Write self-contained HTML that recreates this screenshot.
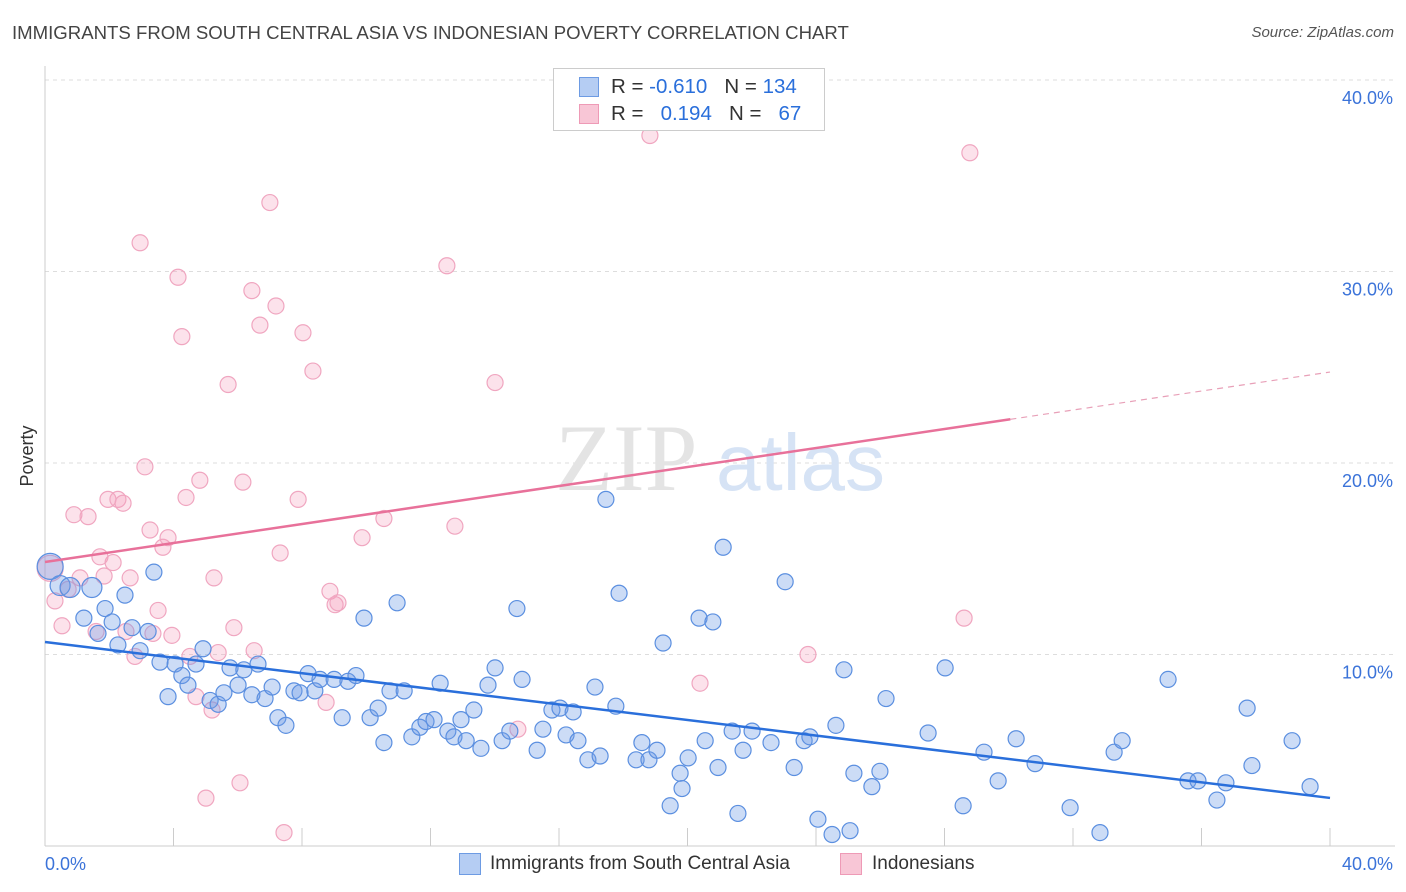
<!DOCTYPE html>
<html><head><meta charset="utf-8"><style>
body{margin:0;background:#fff;font-family:"Liberation Sans",sans-serif;}
#wrap{position:relative;width:1406px;height:892px;overflow:hidden;}
.t{position:absolute;white-space:nowrap;}
</style></head><body>
<div id="wrap">
<div class="t" style="left:12px;top:22px;font-size:18.6px;color:#444;">IMMIGRANTS FROM SOUTH CENTRAL ASIA VS INDONESIAN POVERTY CORRELATION CHART</div>
<div class="t" style="right:12px;top:24px;font-size:15px;color:#555;font-style:italic;">Source: ZipAtlas.com</div>
<svg id="svg" width="1406" height="892" style="position:absolute;left:0;top:0"></svg>
</div>
<script>
const blueX=[0.16,0.47,0.78,1.46,1.21,1.65,1.87,2.09,2.49,2.27,2.71,2.96,3.21,3.39,3.58,3.83,4.05,4.26,4.45,4.70,4.92,5.14,5.39,5.57,5.76,6.01,6.19,6.44,6.63,6.85,7.07,7.25,7.50,7.75,7.94,8.19,8.40,8.56,9.00,9.43,9.68,9.25,9.93,10.12,10.37,10.55,10.74,10.96,11.18,11.42,11.67,11.86,12.11,12.30,12.54,12.73,12.95,13.11,13.35,13.57,13.79,14.01,14.23,14.47,14.69,14.85,15.32,15.50,15.78,16.03,16.22,16.44,16.59,16.90,17.12,17.28,17.46,17.77,17.87,18.40,18.58,18.80,19.05,19.24,19.46,19.77,19.83,20.02,20.36,20.55,20.79,20.95,21.11,21.39,21.57,21.73,22.01,22.60,23.04,23.32,23.63,23.81,24.06,24.50,24.62,24.87,25.06,25.18,25.74,25.99,26.18,27.49,28.02,28.58,29.23,29.67,30.23,30.82,31.91,32.84,33.28,33.53,34.96,35.58,35.89,36.48,36.76,37.42,37.57,38.82,39.38];
const blueY=[14.6,13.6,13.5,13.5,11.9,11.1,12.4,11.7,13.1,10.5,11.4,10.2,11.2,14.3,9.6,7.8,9.5,8.9,8.4,9.5,10.3,7.6,7.4,8.0,9.3,8.4,9.2,7.9,9.5,7.7,8.3,6.7,6.3,8.1,8.0,9.0,8.1,8.7,8.7,8.6,8.9,6.7,11.9,6.7,7.2,5.4,8.1,12.7,8.1,5.7,6.2,6.5,6.6,8.5,6.0,5.7,6.6,5.5,7.1,5.1,8.4,9.3,5.5,6.0,12.4,8.7,5.0,6.1,7.1,7.2,5.8,7.0,5.5,4.5,8.3,4.7,18.1,7.3,13.2,4.5,5.4,4.5,5.0,10.6,2.1,3.8,3.0,4.6,11.9,5.5,11.7,4.1,15.6,6.0,1.7,5.0,6.0,5.4,13.8,4.1,5.5,5.7,1.4,0.6,6.3,9.2,0.8,3.8,3.1,3.9,7.7,5.9,9.3,2.1,4.9,3.4,5.6,4.3,2.0,0.7,4.9,5.5,8.7,3.4,3.4,2.4,3.3,7.2,4.2,5.5,3.1];
const pinkX=[0.16,0.31,0.53,0.72,0.90,1.09,1.34,1.59,1.71,1.84,1.96,2.12,2.27,2.43,2.52,2.65,2.80,2.96,3.11,3.27,3.36,3.52,3.67,3.83,3.95,4.14,4.26,4.39,4.51,4.70,4.82,5.01,5.20,5.26,5.39,5.70,5.88,6.07,6.16,6.44,6.51,6.69,7.00,7.19,7.32,7.44,7.88,8.03,8.34,8.75,8.87,9.03,9.12,9.87,10.55,12.51,12.76,14.01,14.72,18.83,20.39,23.75,28.61,28.79];
const pinkY=[14.5,12.8,11.5,13.4,17.3,14.0,17.2,11.2,15.1,14.1,18.1,14.8,18.1,17.9,11.2,14.0,9.9,31.5,19.8,16.5,11.1,12.3,15.6,16.1,11.0,29.7,26.6,18.2,9.9,7.8,19.1,2.5,7.1,14.0,10.1,24.1,11.4,3.3,19.0,29.0,10.2,27.2,33.6,28.2,15.3,0.7,18.1,26.8,24.8,7.5,13.3,12.6,12.7,16.1,17.1,30.3,16.7,24.2,6.1,37.1,8.5,10.0,11.9,36.2];
const blueTrend=[10.65,2.51];
const pinkTrend=[14.83,24.75];
const pinkSolidEnd=30.05;
const yTicks=[10,20,30,40];
const yTickLabels=["10.0%","20.0%","30.0%","40.0%"];

const X=v=>45+v*32.125, Y=v=>846-v*19.15;
const NS="http://www.w3.org/2000/svg", svg=document.getElementById('svg');
function mk(t,a,p){const e=document.createElementNS(NS,t);for(const k in a)e.setAttribute(k,a[k]);(p||svg).appendChild(e);return e;}

yTicks.forEach((v,i)=>{
 const g=mk('line',{x1:45,x2:1395,y1:Y(v),y2:Y(v),stroke:'#ddd','stroke-dasharray':'4,4'});
 
 
 const t=mk('text',{x:1393,y:Y(v)+24,'text-anchor':'end','font-size':18,fill:'#3b73d9','font-family':'Liberation Sans'});
 t.textContent=yTickLabels[i];
 
 
});
const ax=mk('line',{x1:45,x2:45,y1:66,y2:846,stroke:'#ccc'});


const bx=mk('line',{x1:45,x2:1395,y1:846,y2:846,stroke:'#ccc'});


for(let i=0;i<=10;i++){
 const tk=mk('line',{x1:X(i*4),x2:X(i*4),y1:828,y2:846,stroke:'#ccc'});
 
 
}
[['0.0%',45,'start'],['40.0%',1393,'end']].forEach(a=>{
 const t=mk('text',{x:a[1],y:870,'text-anchor':a[2],'font-size':18,fill:'#3b73d9','font-family':'Liberation Sans'});
 t.textContent=a[0];
 
 
});
const yl=mk('text',{x:0,y:0,transform:'translate(33,456) rotate(-90)','text-anchor':'middle','font-size':18,fill:'#333','font-family':'Liberation Sans'});
yl.textContent='Poverty';



const wm=mk('text',{x:555,y:490,'font-size':95,fill:'#e4e4e4','font-family':'Liberation Serif'});
wm.textContent='ZIP';


const wm2=mk('text',{x:716,y:490,'font-size':80,fill:'#d6e3f5','font-family':'Liberation Sans'});
wm2.textContent='atlas';



pinkX.forEach((x,i)=>{
 const c=mk('circle',{cx:X(x),cy:Y(pinkY[i]),r:i==0?13:8,fill:'rgba(244,160,190,0.3)',stroke:'#f0a6c0','stroke-width':1.2});
 
 
});
blueX.forEach((x,i)=>{
 const c=mk('circle',{cx:X(x),cy:Y(blueY[i]),r:i==0?13:(i<4?10:8),fill:'rgba(110,155,230,0.35)',stroke:'#5b8fe0','stroke-width':1.2});
 
 
});
const bl=mk('line',{x1:X(0),y1:Y(blueTrend[0]),x2:X(40),y2:Y(blueTrend[1]),stroke:'#2a6fdb','stroke-width':2.5});


const pAt=x=>pinkTrend[0]+(pinkTrend[1]-pinkTrend[0])*x/40;
const pl=mk('line',{x1:X(0),y1:Y(pAt(0)),x2:X(pinkSolidEnd),y2:Y(pAt(pinkSolidEnd)),stroke:'#e8719a','stroke-width':2.5});


const pd=mk('line',{x1:X(pinkSolidEnd),y1:Y(pAt(pinkSolidEnd)),x2:X(40),y2:Y(pAt(40)),stroke:'#e8a0b8','stroke-width':1.2,'stroke-dasharray':'6,5'});


</script>
<div class="t" style="left:553px;top:68px;width:270px;height:61px;border:1px solid #ccc;background:#fff;font-size:20.5px;">
 <div class="t" style="left:25px;top:8px;width:18px;height:18px;background:#b5cdf3;border:1px solid #6d9be3;"></div>
 <div class="t" style="left:57px;top:6px;color:#333;">R = <span style="color:#2a6fdb">-0.610</span>&nbsp;&nbsp;&nbsp;N = <span style="color:#2a6fdb">134</span></div>
 <div class="t" style="left:25px;top:35px;width:18px;height:18px;background:#f8c6d6;border:1px solid #ee9ab6;"></div>
 <div class="t" style="left:57px;top:33px;color:#333;">R = &nbsp;&nbsp;<span style="color:#2a6fdb">0.194</span>&nbsp;&nbsp;&nbsp;N = &nbsp;&nbsp;<span style="color:#2a6fdb">67</span></div>
</div>
<div class="t" style="left:459px;top:853px;width:20px;height:20px;background:#b5cdf3;border:1px solid #6d9be3;"></div>
<div class="t" style="left:490px;top:853px;font-size:19px;color:#333;">Immigrants from South Central Asia</div>
<div class="t" style="left:840px;top:853px;width:20px;height:20px;background:#f8c6d6;border:1px solid #ee9ab6;"></div>
<div class="t" style="left:872px;top:853px;font-size:19px;color:#333;">Indonesians</div>
</body></html>
